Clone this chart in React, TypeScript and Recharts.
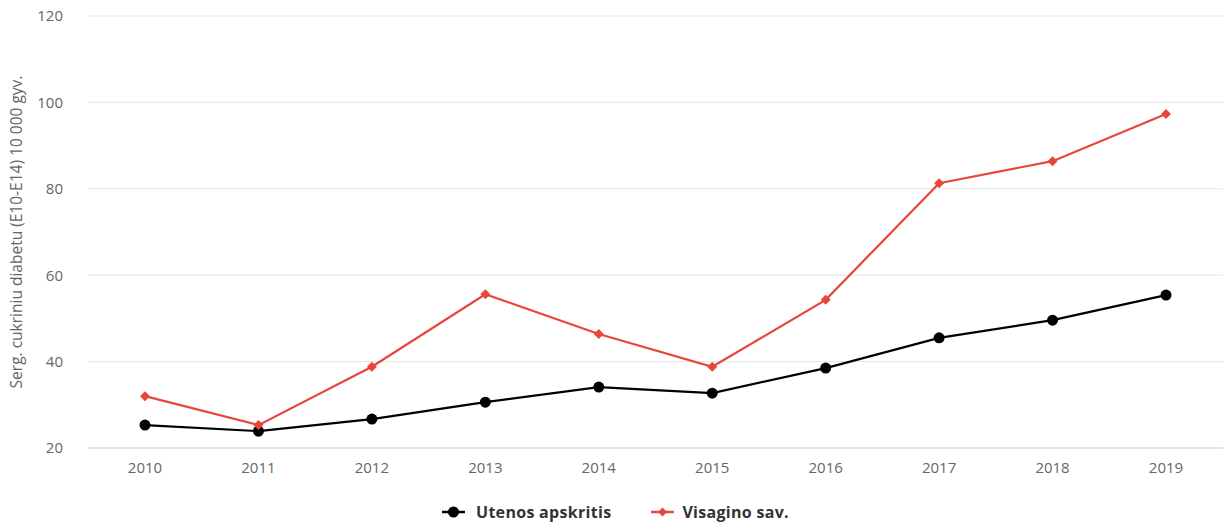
import React from 'react';
import { LineChart, Line, XAxis, YAxis, CartesianGrid, Legend, Label } from 'recharts';

const years = ['2010', '2011', '2012', '2013', '2014', '2015', '2016', '2017', '2018', '2019'];
const utenos = [25.3, 23.9, 26.7, 30.6, 34.1, 32.7, 38.5, 45.5, 49.6, 55.4];
const visagino = [32.0, 25.3, 38.8, 55.6, 46.4, 38.8, 54.3, 81.3, 86.4, 97.3];
const yTicks = [20, 40, 60, 80, 100, 120];

const seriesNames = ['Utenos apskritis', 'Visagino sav.'];
const colors = ['#000000', '#e8453c'];

const data = years.map((y, i) => ({ year: y, utenos: utenos[i], visagino: visagino[i] }));

const FONT = '"Open Sans", "DejaVu Sans", sans-serif';

const Diamond = (props: any) => {
  const { cx, cy, fill } = props;
  if (cx == null || cy == null) return null;
  const r = 5;
  return (
    <path
      d={`M${cx},${cy - r} L${cx + r},${cy} L${cx},${cy + r} L${cx - r},${cy} Z`}
      fill={fill}
    />
  );
};

const Circle = (props: any) => {
  const { cx, cy, fill } = props;
  if (cx == null || cy == null) return null;
  return <circle cx={cx} cy={cy} r={5.5} fill={fill} />;
};

const LegendContent = () => (
  <div
    style={{
      display: 'flex',
      justifyContent: 'center',
      alignItems: 'center',
      height: 45,
      paddingTop: 22,
      paddingRight: 12,
      boxSizing: 'border-box',
      fontFamily: FONT,
      fontSize: 16,
      letterSpacing: 0.3,
      fontWeight: 'bold',
      color: '#333333',
    }}
  >
    {seriesNames.map((n, i) => (
      <div key={n} style={{ display: 'flex', alignItems: 'center', marginRight: i === 0 ? 40 : 0 }}>
        <svg width={23} height={12} style={{ marginRight: i === 0 ? 11 : 8 }}>
          <line x1={0} y1={6} x2={23} y2={6} stroke={colors[i]} strokeWidth={2.5} />
          {i === 0 ? (
            <circle cx={11.5} cy={6} r={5.5} fill={colors[i]} />
          ) : (
            <path d="M11.5,1.5 L16,6 L11.5,10.5 L7,6 Z" fill={colors[i]} />
          )}
        </svg>
        <span>{n}</span>
      </div>
    ))}
  </div>
);

export default function App() {
  return (
    <div style={{ position: 'absolute', left: 0, top: 0, background: '#fff' }}>
      <LineChart
        width={1232}
        height={523}
        data={data}
        margin={{ top: 16, right: 9, left: 20, bottom: 0 }}
      >
        <CartesianGrid horizontal vertical={false} stroke="#e6e6e6" />
        <XAxis
          dataKey="year"
          height={30}
          padding={{ left: 57, right: 57 }}
          tickLine={false}
          axisLine={{ stroke: '#ccd6eb' }}
          tick={{ fill: '#666666', fontSize: 15, fontFamily: FONT }}
          tickMargin={8}
        />
        <YAxis
          width={68}
          domain={[20, 120]}
          ticks={yTicks}
          axisLine={false}
          tickLine={false}
          tick={{ fill: '#666666', fontSize: 15, fontFamily: FONT }}
          tickMargin={19}
        >
          <Label
            value="Serg. cukriniu diabetu (E10-E14) 10 000 gyv."
            angle={-90}
            position="insideLeft"
            offset={-4}
            style={{ fill: '#666666', fontSize: 15.5, fontFamily: FONT, textAnchor: 'middle' }}
          />
        </YAxis>
        <Legend verticalAlign="bottom" content={<LegendContent />} />
        <Line
          type="linear"
          dataKey="utenos"
          name={seriesNames[0]}
          stroke={colors[0]}
          strokeWidth={2.2}
          dot={<Circle fill={colors[0]} />}
          isAnimationActive={false}
        />
        <Line
          type="linear"
          dataKey="visagino"
          name={seriesNames[1]}
          stroke={colors[1]}
          strokeWidth={2.2}
          dot={<Diamond fill={colors[1]} />}
          isAnimationActive={false}
        />
      </LineChart>
    </div>
  );
}
